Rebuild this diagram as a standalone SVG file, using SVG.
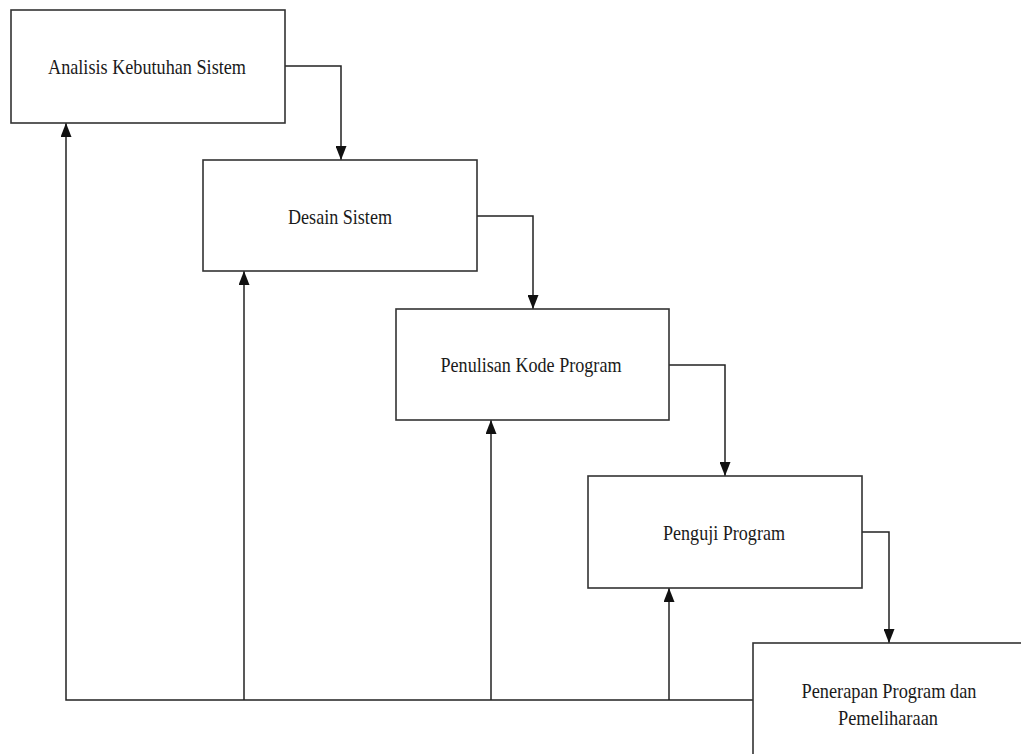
<svg xmlns="http://www.w3.org/2000/svg" width="1021" height="754" viewBox="0 0 1021 754">
  <style>
    .box { fill: #ffffff; stroke: #333333; stroke-width: 1.6; }
    .lbl { font-family: "Liberation Serif", "Times New Roman", serif; font-size: 22px; fill: #1a1a1a; text-anchor: middle; }
    .conn { fill: none; stroke: #222222; stroke-width: 1.5; }
  </style>
  <defs>
    <marker id="arr" markerUnits="userSpaceOnUse" markerWidth="14" markerHeight="11" viewBox="0 0 14 11" refX="14" refY="5.5" orient="auto">
      <path d="M0,0 L14,5.5 L0,11 z" fill="#111111"/>
    </marker>
  </defs>
  <rect width="1021" height="754" fill="#ffffff"/>
  <g id="connectors">
    <path class="conn" d="M285,66 H341 V160" marker-end="url(#arr)"/>
    <path class="conn" d="M477,216 H533 V309" marker-end="url(#arr)"/>
    <path class="conn" d="M669,365 H725 V476" marker-end="url(#arr)"/>
    <path class="conn" d="M862,532 H889 V643" marker-end="url(#arr)"/>
    <path class="conn" d="M753,700 H66 V123" marker-end="url(#arr)"/>
    <path class="conn" d="M244,700 V271" marker-end="url(#arr)"/>
    <path class="conn" d="M491,700 V420" marker-end="url(#arr)"/>
    <path class="conn" d="M669,700 V588" marker-end="url(#arr)"/>
  </g>
  <g id="node-analisis">
    <rect class="box" x="11" y="10" width="274" height="113"/>
    <text class="lbl" x="147" y="74" textLength="198" lengthAdjust="spacingAndGlyphs">Analisis Kebutuhan Sistem</text>
  </g>
  <g id="node-desain">
    <rect class="box" x="203" y="160" width="274" height="111"/>
    <text class="lbl" x="340" y="224" textLength="104" lengthAdjust="spacingAndGlyphs">Desain Sistem</text>
  </g>
  <g id="node-penulisan">
    <rect class="box" x="396" y="309" width="273" height="111"/>
    <text class="lbl" x="531" y="372" textLength="181" lengthAdjust="spacingAndGlyphs">Penulisan Kode Program</text>
  </g>
  <g id="node-penguji">
    <rect class="box" x="588" y="476" width="274" height="112"/>
    <text class="lbl" x="724" y="540" textLength="122" lengthAdjust="spacingAndGlyphs">Penguji Program</text>
  </g>
  <g id="node-penerapan">
    <rect class="box" x="753" y="643" width="300" height="150"/>
    <text class="lbl" x="889" y="698" textLength="175" lengthAdjust="spacingAndGlyphs">Penerapan Program dan</text>
    <text class="lbl" x="888" y="725" textLength="100" lengthAdjust="spacingAndGlyphs">Pemeliharaan</text>
  </g>
</svg>
